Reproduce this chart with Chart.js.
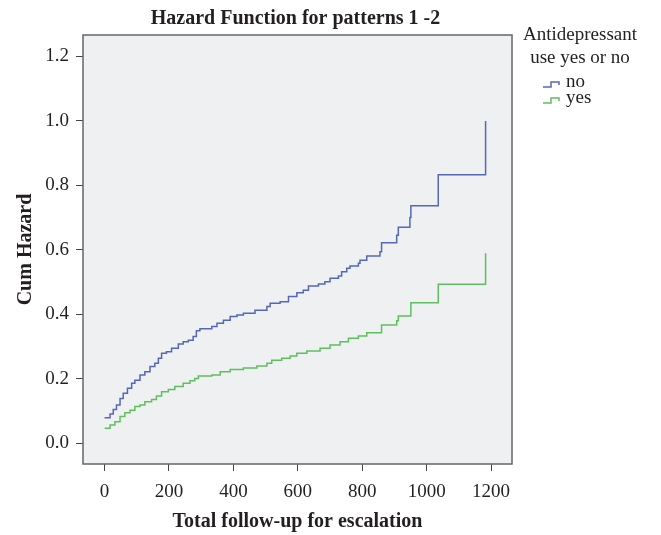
<!DOCTYPE html>
<html>
<head>
<meta charset="utf-8">
<script src="https://cdn.jsdelivr.net/npm/chart.js@4.4.1/dist/chart.umd.min.js"></script>
<style>
  html, body { margin: 0; padding: 0; background: #ffffff; }
  #chart { display: block; }
</style>
</head>
<body>
<canvas id="chart" width="661" height="535"></canvas>
<script>
// cumulative hazard (step points)
const noTime = [0,17,27,37,48,58,71,84,94,110,125,141,156,167,177,192,208,229,244,260,275,285,296,333,349,369,390,411,431,467,504,514,545,571,597,617,633,664,684,700,726,736,752,762,788,793,814,855,860,907,912,948,951,1036,1183];
const noHaz = [0.079,0.091,0.105,0.119,0.139,0.155,0.171,0.186,0.196,0.212,0.222,0.238,0.248,0.264,0.279,0.284,0.295,0.308,0.315,0.320,0.331,0.349,0.355,0.362,0.372,0.382,0.393,0.398,0.403,0.413,0.424,0.434,0.439,0.455,0.467,0.475,0.488,0.494,0.501,0.512,0.519,0.532,0.543,0.550,0.558,0.568,0.581,0.594,0.622,0.645,0.670,0.700,0.737,0.833,0.999];

const yesTime = [0,17,32,48,63,79,94,110,125,146,161,177,198,218,244,265,280,291,333,359,390,431,473,504,519,550,576,597,628,669,700,731,757,788,814,860,907,912,951,1036,1183];
const yesHaz = [0.047,0.057,0.067,0.083,0.095,0.103,0.114,0.119,0.129,0.136,0.147,0.160,0.167,0.176,0.186,0.194,0.201,0.209,0.212,0.222,0.229,0.234,0.240,0.248,0.258,0.264,0.271,0.279,0.286,0.295,0.305,0.315,0.326,0.333,0.343,0.367,0.380,0.395,0.436,0.493,0.589];

const xTicks = [0, 200, 400, 600, 800, 1000, 1200];
const yTicks = [0, 0.2, 0.4, 0.6, 0.8, 1.0, 1.2];

const seriesLabels = ['no', 'yes'];
const seriesColors = ['#5467b9', '#5fbf5f'];

const chartTitle = 'Hazard Function for patterns 1 -2';
const xTitle = 'Total follow-up for escalation';
const yTitle = 'Cum Hazard';
const legendTitle = ['Antidepressant', 'use yes or no'];

const serif = '"Liberation Serif", "DejaVu Serif", serif';

function toPoints(xs, ys) {
    return xs.map((x, i) => ({x: x, y: ys[i]}));
}

// grey plot background and frame
const framePlugin = {
    id: 'frame',
    beforeDraw(chart) {
        const a = chart.chartArea, c = chart.ctx;
        c.save();
        c.fillStyle = '#eff0f2';
        c.fillRect(a.left, a.top, a.right - a.left, a.bottom - a.top);
        c.restore();
    },
    afterDatasetsDraw(chart) {
        const a = chart.chartArea, c = chart.ctx;
        c.save();
        c.strokeStyle = '#666666';
        c.lineWidth = 1.5;
        c.strokeRect(a.left, a.top, a.right - a.left, a.bottom - a.top);
        c.restore();
    }
};

// titles and the step legend on the right
const textPlugin = {
    id: 'texts',
    afterDraw(chart) {
        const a = chart.chartArea, c = chart.ctx;
        const midX = (a.left + a.right) / 2;
        const midY = (a.top + a.bottom) / 2;
        c.save();
        c.fillStyle = '#231f20';
        c.font = 'bold 20px ' + serif;
        c.textAlign = 'center';
        c.textBaseline = 'alphabetic';
        c.fillText(chartTitle, midX - 2, 24);
        c.fillText(xTitle, midX, 527);

        c.save();
        c.translate(31, midY);
        c.rotate(-Math.PI / 2);
        c.fillText(yTitle, 0, 0);
        c.restore();

        // legend
        c.font = '19px ' + serif;
        c.fillText(legendTitle[0], 580, 40);
        c.fillText(legendTitle[1], 580, 63);
        c.textAlign = 'left';
        const rows = [82, 98];
        seriesLabels.forEach((lab, i) => {
            const y = rows[i];
            c.strokeStyle = seriesColors[i];
            c.lineWidth = 1.5;
            c.beginPath();
            c.moveTo(543, y + 5);
            c.lineTo(551, y + 5);
            c.lineTo(551, y);
            c.lineTo(559, y);
            c.lineTo(559, y + 3);
            c.stroke();
            c.fillStyle = '#231f20';
            c.fillText(lab, 566, y + 5);
        });
        c.restore();
    }
};

const tickColor = '#444444';

new Chart(document.getElementById('chart'), {
    type: 'scatter',
    data: {
        datasets: [{
            label: seriesLabels[0],
            data: toPoints(noTime, noHaz),
            borderColor: seriesColors[0],
            borderWidth: 1.5,
            showLine: true,
            stepped: true,
            pointRadius: 0,
            fill: false
        },{
            label: seriesLabels[1],
            data: toPoints(yesTime, yesHaz),
            borderColor: seriesColors[1],
            borderWidth: 1.5,
            showLine: true,
            stepped: true,
            pointRadius: 0,
            fill: false
        }]
    },
    options: {
        responsive: false,
        animation: false,
        devicePixelRatio: 1,
        layout: {
            padding: {left: 0, top: 35, right: 149, bottom: 0}
        },
        plugins: {
            legend: {display: false},
            title: {display: false},
            tooltip: {enabled: false}
        },
        scales: {
            x: {
                type: 'linear',
                min: -67,
                max: 1265,
                afterBuildTicks(scale) {
                    scale.ticks = xTicks.map(v => ({value: v}));
                },
                afterFit(scale) {
                    scale.height = 71;
                },
                border: {display: false},
                grid: {
                    drawOnChartArea: false,
                    drawTicks: true,
                    tickLength: 7,
                    color: tickColor,
                    lineWidth: 1
                },
                ticks: {
                    padding: 10,
                    color: '#231f20',
                    font: {family: serif, size: 19},
                    maxRotation: 0,
                    callback: v => String(v)
                }
            },
            y: {
                type: 'linear',
                min: -0.064,
                max: 1.266,
                afterBuildTicks(scale) {
                    scale.ticks = yTicks.map(v => ({value: v}));
                },
                afterFit(scale) {
                    scale.width = 83;
                },
                border: {display: false},
                grid: {
                    drawOnChartArea: false,
                    drawTicks: true,
                    tickLength: 7,
                    color: tickColor,
                    lineWidth: 1
                },
                ticks: {
                    padding: 7,
                    color: '#231f20',
                    font: {family: serif, size: 19},
                    callback: v => Number(v).toFixed(1)
                }
            }
        }
    },
    plugins: [framePlugin, textPlugin]
});
</script>
</body>
</html>
